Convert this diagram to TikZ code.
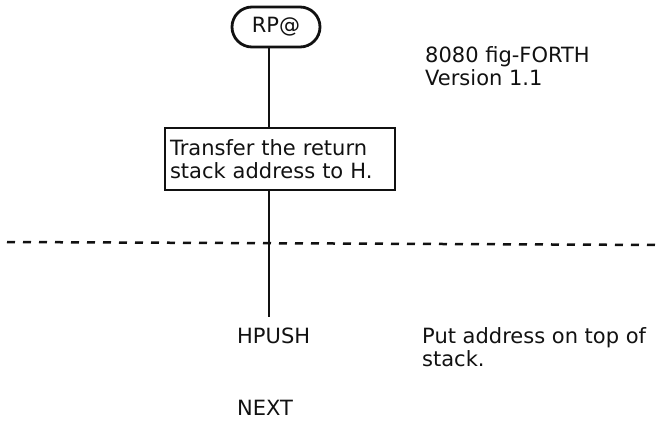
\documentclass[tikz,border=0pt]{standalone}
\usepackage{fontspec}
\setmainfont{DejaVu Sans}
\usepackage{tikz}
\usetikzlibrary{positioning,calc}
\definecolor{ink}{HTML}{111111}
\tikzset{
  term/.style={rounded corners=20pt,draw=ink,line width=2.8pt,minimum width=88pt,
    minimum height=40pt,inner sep=0pt,text=ink},
  proc/.style={draw=ink,line width=2.8pt,text width=220pt,minimum height=62pt,
    align=left,inner sep=5pt,text=ink},
  word/.style={inner xsep=0pt,inner ysep=10pt,text=ink},
  note/.style={inner sep=0pt,align=left,text=ink},
  flow/.style={draw=ink,line width=2.8pt},
  cut/.style={draw=ink,line width=2.5pt,dash pattern=on 8pt off 8pt},
}
\begin{document}
\begin{tikzpicture}[x=1pt,y=-1pt,font=\fontsize{21}{23}\selectfont]
    \useasboundingbox (0,0) rectangle (662,421);
    \node[term] (rp) at (276,27) {RP@};
    \node[proc] (xfer) at (280,159) {Transfer the return\\stack address to H.};
    \node[word,anchor=base west] (hpush) at (237,343) {HPUSH};
    \node[word,anchor=base west] (next) at (237,415) {NEXT};
    \node[note,anchor=north west] (ver) at (425,46) {8080 fig-FORTH\\Version 1.1};
    \node[note,anchor=north west] (push) at (422,327) {Put address on top of\\stack.};
    \coordinate (spine) at (269,0);
    \draw[flow] (spine |- rp.south) -- (spine |- xfer.north);
    \draw[flow] (spine |- xfer.south) -- (spine |- hpush.north);
    \coordinate (cutL) at (7,242);
    \coordinate (cutR) at (662,245);
    \draw[cut] (cutL) -- (cutR);
  \end{tikzpicture}
\end{document}
